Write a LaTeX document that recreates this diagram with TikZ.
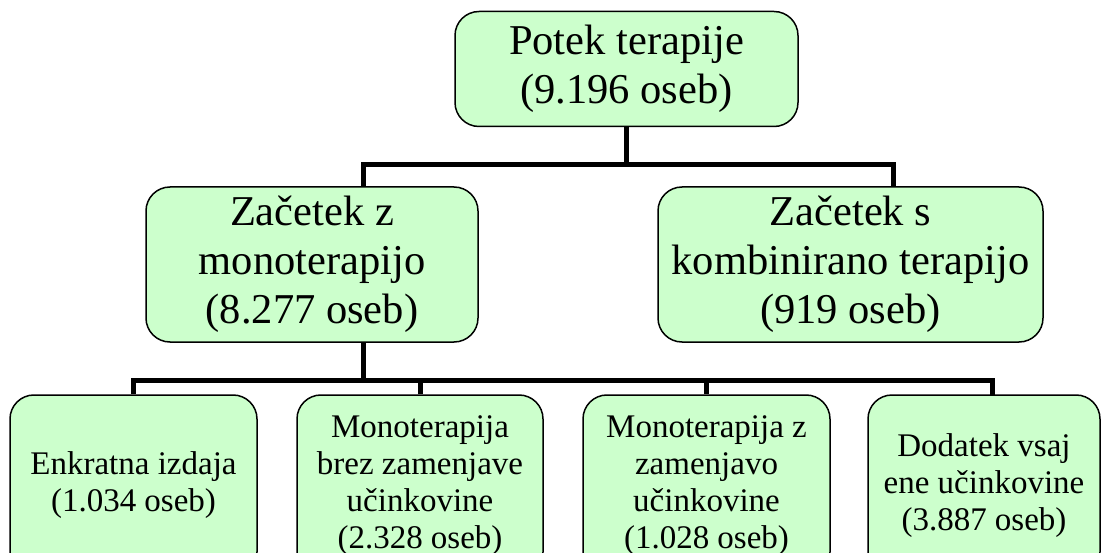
\documentclass[tikz,border=0pt]{standalone}
\usepackage{fontspec}
\setmainfont{Liberation Serif}
\definecolor{boxgreen}{HTML}{CCFFCC}

\tikzset{
    stage/.style={draw, fill=boxgreen, line width=1.5pt, rounded corners=24pt,
        align=center, inner sep=0pt},
    bigtext/.style={font=\fontsize{42.5}{49}\selectfont},
    smalltext/.style={font=\fontsize{33}{37}\selectfont},
    link/.style={line width=5pt}
}

\begin{document}
\begin{tikzpicture}[x=1pt, y=-1pt]
    \clip (0,0) rectangle (1103,553);

    \node[stage, bigtext, minimum width=343pt, minimum height=115pt] (potek) at (626.5, 69) {Potek terapije\\(9.196 oseb)};

    \node[stage, bigtext, minimum width=332pt, minimum height=155pt] (mono) at (312, 264.5) {Začetek z\\monoterapijo\\(8.277 oseb)};
    \node[stage, bigtext, minimum width=385pt, minimum height=155pt] (komb) at (850.5, 264.5) {Začetek s\\kombinirano terapijo\\(919 oseb)};

    \node[stage, smalltext, minimum width=247pt, minimum height=181pt] (enkr) at (133.5, 485.5) {Enkratna izdaja\\(1.034 oseb)};
    \node[stage, smalltext, minimum width=246pt, minimum height=181pt] (brez) at (420, 485.5) {Monoterapija\\brez zamenjave\\učinkovine\\(2.328 oseb)};
    \node[stage, smalltext, minimum width=247pt, minimum height=181pt] (zam) at (706.5, 485.5) {Monoterapija z\\zamenjavo\\učinkovine\\(1.028 oseb)};
    \node[stage, smalltext, minimum width=232pt, minimum height=181pt] (dod) at (984, 485.5) {Dodatek vsaj\\ene učinkovine\\(3.887 oseb)};

    % joints of the tree
    \coordinate (top1) at (363, 165);
    \coordinate (monoin) at (363, 187);
    \coordinate (kombin) at (893, 187);
    \coordinate (monoout) at (363, 342);
    \coordinate (top2) at (363, 380);
    \coordinate (dodin) at (992, 395);

    % Draw the edges between nodes
    \draw[link] (potek.south) -- (potek.south |- top1);
    \draw[link] (monoin) |- (kombin |- top1) -- (kombin);
    \draw[link] (monoout) -- (top2);
    \draw[link] (enkr.north) |- (dodin |- top2) -- (dodin);
    \draw[link] (brez.north) -- (brez.north |- top2);
    \draw[link] (zam.north) -- (zam.north |- top2);
\end{tikzpicture}
\end{document}
